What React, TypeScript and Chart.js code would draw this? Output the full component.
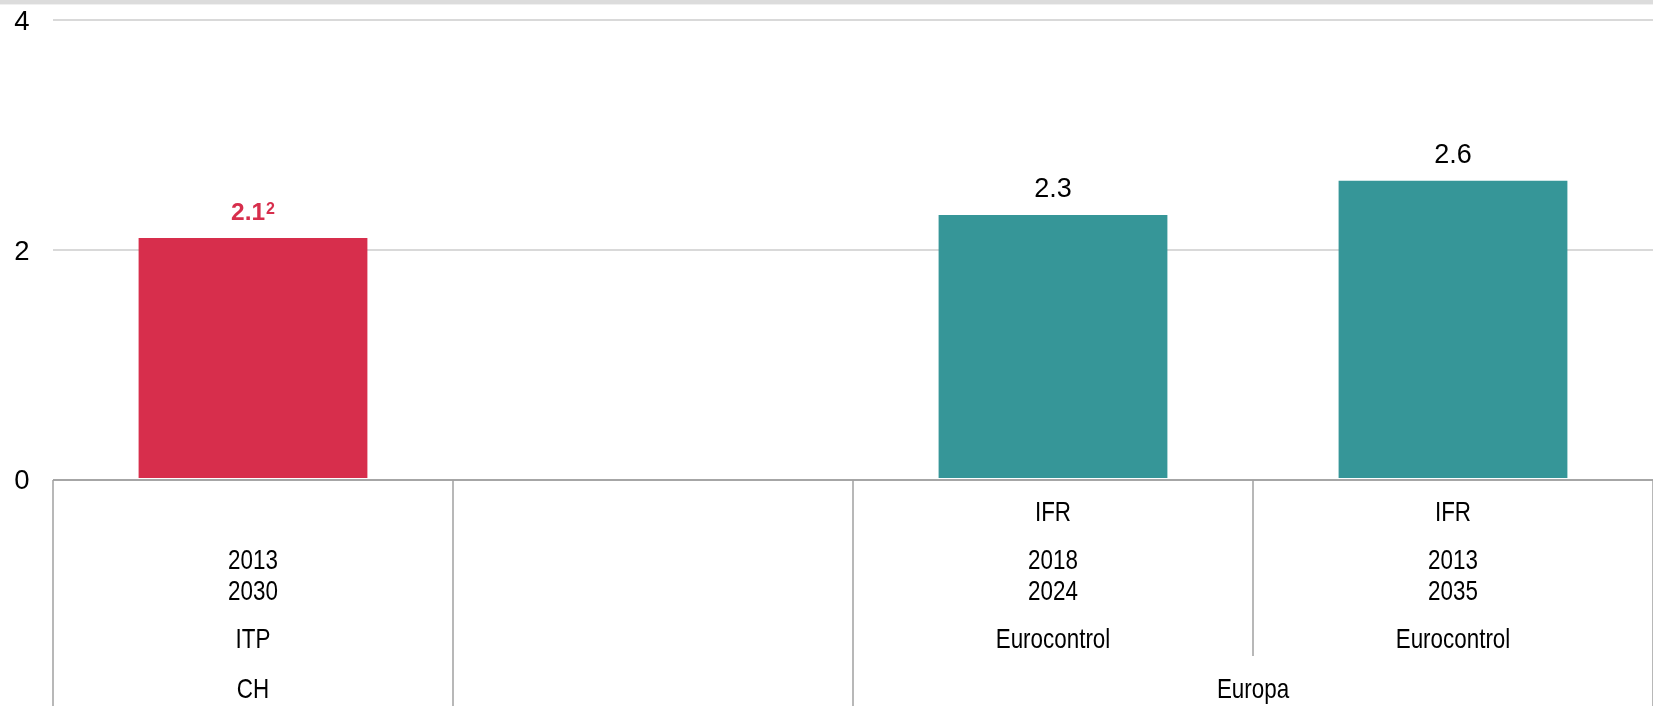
import React, { useEffect, useRef } from "react";
import { Chart, registerables } from "chart.js";

Chart.register(...registerables);

// ---- data ----
const categories = ["CH ITP 2013-2030", "", "Europa IFR 2018-2024", "Europa IFR 2013-2035"];
const values: (number | null)[] = [2.1, null, 2.3, 2.6];
const barColors = ["#D72E4C", "#369698", "#369698", "#369698"];
const valueLabels = ["2.1", "", "2.3", "2.6"];
const valueFootnotes = ["2", "", "", ""];
const valueLabelColors = ["#D72E4C", "#000000", "#000000", "#000000"];
const valueLabelBold = [true, false, false, false];
const rowMeasure = ["", "", "IFR", "IFR"];
const rowYears: string[][] = [["2013", "2030"], [], ["2018", "2024"], ["2013", "2035"]];
const rowSource = ["ITP", "", "Eurocontrol", "Eurocontrol"];
const regionLabels = ["CH", "", "Europa"];
const regionFrom = [0, 1, 2];
const regionTo = [0, 1, 3];
const yTicks = [0, 2, 4];

const FONT = '"Liberation Sans", Arial, sans-serif';

function drawText(
  ctx: CanvasRenderingContext2D,
  text: string,
  x: number,
  y: number,
  size: number,
  color: string,
  bold = false,
  sx = 1,
  align: CanvasTextAlign = "center"
) {
  ctx.save();
  ctx.translate(x, y);
  ctx.scale(sx, 1);
  ctx.font = `${bold ? "bold " : ""}${size}px ${FONT}`;
  ctx.fillStyle = color;
  ctx.textAlign = align;
  ctx.textBaseline = "alphabetic";
  ctx.fillText(text, 0, 0);
  ctx.restore();
}

const decorPlugin = {
  id: "decor",
  beforeDraw(chart: any) {
    const ctx = chart.ctx as CanvasRenderingContext2D;
    ctx.save();
    ctx.fillStyle = "#ffffff";
    ctx.fillRect(0, 0, chart.width, chart.height);
    ctx.fillStyle = "#dcdcdc";
    ctx.fillRect(0, 0, chart.width, 4);
    ctx.fillStyle = "#f0f0f0";
    ctx.fillRect(0, 4, chart.width, 1);
    ctx.restore();
  },
  afterDatasetsDraw(chart: any) {
    const ctx = chart.ctx as CanvasRenderingContext2D;
    const x = chart.scales.x;
    const y = chart.scales.y;
    const area = chart.chartArea;
    const H = chart.height;

    // y tick labels
    yTicks.forEach((t) => {
      drawText(ctx, String(t), 22, y.getPixelForValue(t) + 10, 27.5, "#000000");
    });

    // value labels
    values.forEach((v, i) => {
      if (v === null || !valueLabels[i]) return;
      const cx = x.getPixelForValue(i);
      const base = y.getPixelForValue(v) - 18;
      const bold = valueLabelBold[i];
      const size = bold ? 24.5 : 27;
      ctx.save();
      ctx.font = `${bold ? "bold " : ""}${size}px ${FONT}`;
      const w1 = ctx.measureText(valueLabels[i]).width;
      let w2 = 0;
      if (valueFootnotes[i]) {
        ctx.font = `bold 16px ${FONT}`;
        w2 = ctx.measureText(valueFootnotes[i]).width + 1;
      }
      ctx.restore();
      const start = cx - (w1 + w2) / 2;
      drawText(ctx, valueLabels[i], start, base, size, valueLabelColors[i], bold, 1, "left");
      if (valueFootnotes[i]) {
        drawText(ctx, valueFootnotes[i], start + w1 + 1, base - 6, 16, valueLabelColors[i], true, 1, "left");
      }
    });

    // zero axis line
    const y0 = y.getPixelForValue(0) + 1;
    ctx.save();
    ctx.strokeStyle = "#a6a6a6";
    ctx.lineWidth = 2;
    ctx.beginPath();
    ctx.moveTo(area.left, y0);
    ctx.lineTo(area.right, y0);
    ctx.stroke();

    // category boundaries
    const half = (x.getPixelForValue(1) - x.getPixelForValue(0)) / 2;
    const boundaries: { px: number; full: boolean }[] = [];
    for (let i = 0; i <= categories.length; i++) {
      const px = i < categories.length ? x.getPixelForValue(i) - half : x.getPixelForValue(i - 1) + half;
      let full = true;
      if (i > 0 && i < categories.length) {
        for (let r = 0; r < regionLabels.length; r++) {
          if (i > regionFrom[r] && i <= regionTo[r]) full = false;
        }
      }
      boundaries.push({ px, full });
    }
    ctx.strokeStyle = "#a0a0a0";
    ctx.lineWidth = 1.5;
    boundaries.forEach((b) => {
      ctx.beginPath();
      ctx.moveTo(b.px, y0);
      ctx.lineTo(b.px, b.full ? H : y0 + 176);
      ctx.stroke();
    });
    ctx.restore();

    // category label rows
    const sx = 0.8;
    const size = 28;
    categories.forEach((_, i) => {
      const cx = x.getPixelForValue(i);
      if (rowMeasure[i]) drawText(ctx, rowMeasure[i], cx, y0 + 41, size, "#000000", false, sx);
      rowYears[i].forEach((yr, k) => {
        drawText(ctx, yr, cx, y0 + 89 + k * 31, size, "#000000", false, sx);
      });
      if (rowSource[i]) drawText(ctx, rowSource[i], cx, y0 + 168, size, "#000000", false, sx);
    });
    regionLabels.forEach((lab, r) => {
      if (!lab) return;
      const cx = (x.getPixelForValue(regionFrom[r]) + x.getPixelForValue(regionTo[r])) / 2;
      drawText(ctx, lab, cx, y0 + 218, size, "#000000", false, sx);
    });
  },
};

export default function App() {
  const ref = useRef<HTMLCanvasElement | null>(null);
  useEffect(() => {
    if (!ref.current) return;
    const chart = new Chart(ref.current, {
      type: "bar",
      data: {
        labels: categories,
        datasets: [
          {
            data: values,
            backgroundColor: barColors,
            borderWidth: 0,
            barPercentage: 0.572,
            categoryPercentage: 1,
          },
        ],
      },
      options: {
        responsive: false,
        animation: false,
        layout: { padding: { left: 53, top: 20, bottom: 227, right: 0 } },
        plugins: { legend: { display: false }, tooltip: { enabled: false }, title: { display: false } },
        scales: {
          x: { display: false, offset: true },
          y: {
            min: 0,
            max: 4,
            ticks: { display: false, stepSize: 2 },
            border: { display: false },
            grid: {
              drawTicks: false,
              lineWidth: 2,
              color: (c: any) => (c.tick && c.tick.value === 0 ? "rgba(0,0,0,0)" : "#d9d9d9"),
            },
            afterFit: (s: any) => {
              s.width = 0;
            },
          },
        },
      },
      plugins: [decorPlugin],
    });
    return () => chart.destroy();
  }, []);
  return (
    <div style={{ position: "fixed", left: 0, top: 0, width: 1653, height: 706 }}>
      <canvas ref={ref} width={1653} height={706} style={{ display: "block" }} />
    </div>
  );
}
